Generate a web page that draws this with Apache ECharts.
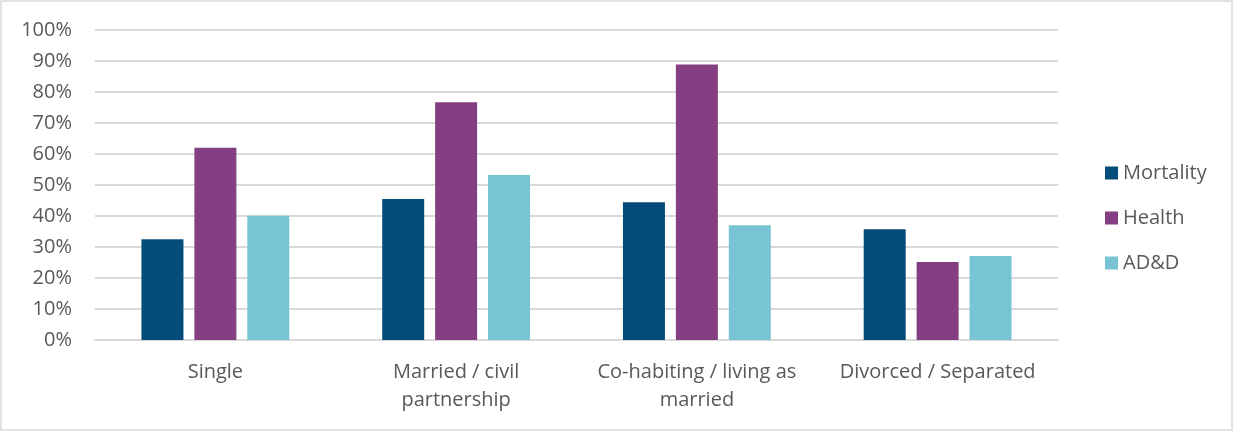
<!DOCTYPE html>
<html>
<head>
<meta charset="utf-8">
<script src="https://cdn.jsdelivr.net/npm/echarts@6/dist/echarts.min.js"></script>
<style>
  html, body { margin: 0; padding: 0; background: #fff; }
  #chart { width: 1234px; height: 432px; }
</style>
</head>
<body>
<div id="chart"></div>
<script>
// Share of respondents by marital status, per cover type (%)
const categories = ['Single', 'Married / civil\npartnership', 'Co-habiting / living as\nmarried', 'Divorced / Separated'];
const mortality = [32.5, 45.5, 44.4, 35.7];
const health = [62, 76.7, 88.9, 25.2];
const addd = [40.1, 53.2, 37, 27.1];
const yTicks = [0, 10, 20, 30, 40, 50, 60, 70, 80, 90, 100];

const textColor = '#595959';
const fontFamily = '"Open Sans", "Segoe UI", sans-serif';

const chart = echarts.init(document.getElementById('chart'), null, { renderer: 'canvas' });

function barSeries(name, data, color) {
  return {
    name: name,
    type: 'bar',
    data: data,
    barWidth: 42,
    barGap: '26%',
    itemStyle: { color: color },
    emphasis: { disabled: true }
  };
}

chart.setOption({
  animation: false,
  backgroundColor: '#ffffff',
  textStyle: { fontFamily: fontFamily },
  graphic: [{
    type: 'rect',
    shape: { x: 1, y: 1, width: 1231, height: 429 },
    style: { fill: 'none', stroke: '#d9d9d9', lineWidth: 1.5 },
    silent: true
  }],
  grid: { left: 95, right: 176, top: 30, bottom: 92, containLabel: false },
  legend: {
    orient: 'vertical',
    left: 1100,
    top: 158,
    itemWidth: 13,
    itemHeight: 13,
    itemGap: 25,
    icon: 'rect',
    selectedMode: false,
    textStyle: { color: textColor, fontSize: 20, lineHeight: 20, fontFamily: fontFamily },
    data: ['Mortality', 'Health', 'AD&D']
  },
  xAxis: {
    type: 'category',
    data: categories,
    axisLine: { show: true, lineStyle: { color: '#d9d9d9', width: 2 } },
    axisTick: { show: false },
    axisLabel: {
      color: textColor,
      fontSize: 20,
      lineHeight: 28,
      margin: 18,
      interval: 0,
      fontFamily: fontFamily
    }
  },
  yAxis: {
    type: 'value',
    min: yTicks[0],
    max: yTicks[yTicks.length - 1],
    interval: yTicks[1] - yTicks[0],
    axisLine: { show: false },
    axisTick: { show: false },
    splitLine: { lineStyle: { color: '#d9d9d9', width: 2 } },
    axisLabel: {
      color: textColor,
      fontSize: 20,
      margin: 23,
      fontFamily: fontFamily,
      formatter: v => v + '%'
    }
  },
  series: [
    barSeries('Mortality', mortality, '#064c7a'),
    barSeries('Health', health, '#833f82'),
    barSeries('AD&D', addd, '#79c4d4')
  ]
});
</script>
</body>
</html>
